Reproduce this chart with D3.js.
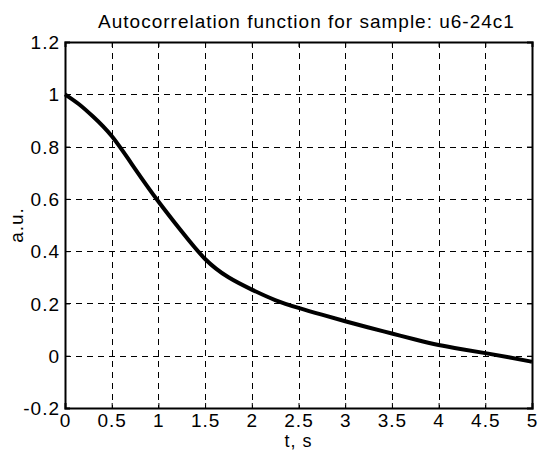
<!DOCTYPE html>
<html>
<head>
<meta charset="utf-8">
<script src="https://cdn.jsdelivr.net/npm/d3@7"></script>
<style>
body{margin:0;background:#fff}
text{font-family:"Liberation Sans",Arial,sans-serif}
</style>
</head>
<body>
<div id="chart"></div>
<script>
// values
var tValues=[0,0.15,0.3,0.5,0.75,1,1.25,1.5,1.75,2,2.25,2.5,2.75,3,3.25,3.5,3.75,4,4.25,4.5,4.75,5]
var acfValues=[1,0.962,0.915,0.84,0.715,0.59,0.475,0.37,0.3,0.253,0.213,0.183,0.157,0.132,0.108,0.085,0.062,0.041,0.025,0.010,-0.006,-0.023]
var xTicks=[0,0.5,1,1.5,2,2.5,3,3.5,4,4.5,5]
var yTicks=[-0.2,0,0.2,0.4,0.6,0.8,1,1.2]
var titleText="Autocorrelation function for sample: u6-24c1"

var svgWidth=540
var svgHeight=450
var margin={top:42,right:8,bottom:42,left:65}
var width=svgWidth-margin.left-margin.right
var height=svgHeight-margin.top-margin.bottom

var svg=d3.select("#chart").append("svg")
    .attr("width",svgWidth)
    .attr("height",svgHeight)
var g=svg.append("g")
    .attr("transform",`translate(${margin.left},${margin.top})`)

var x=d3.scaleLinear().domain([0,5]).range([0,width])
var y=d3.scaleLinear().domain([-0.2,1.2]).range([height,0])

// dashed grid
g.selectAll(".vgrid").data(xTicks.slice(1,-1)).enter().append("line")
    .attr("x1",d=>Math.round(x(d))+0.5).attr("x2",d=>Math.round(x(d))+0.5)
    .attr("y1",0).attr("y2",height)
    .attr("stroke","#000").attr("stroke-dasharray","6,5")
g.selectAll(".hgrid").data(yTicks.slice(1,-1)).enter().append("line")
    .attr("y1",d=>Math.round(y(d))+0.5).attr("y2",d=>Math.round(y(d))+0.5)
    .attr("x1",0).attr("x2",width)
    .attr("stroke","#000").attr("stroke-dasharray","6,5")

// axes with inward ticks
var fmt=d=>String(+d.toFixed(1))
var axBottom=g.append("g").attr("transform",`translate(0,${height})`)
    .call(d3.axisBottom(x).tickValues(xTicks).tickSize(-5).tickPadding(6).tickFormat(fmt))
var axLeft=g.append("g")
    .call(d3.axisLeft(y).tickValues(yTicks).tickSize(-5).tickPadding(5).tickFormat(fmt))
var axTop=g.append("g")
    .call(d3.axisTop(x).tickValues(xTicks).tickSize(-5).tickFormat(""))
var axRight=g.append("g").attr("transform",`translate(${width},0)`)
    .call(d3.axisRight(y).tickValues(yTicks).tickSize(-5).tickFormat(""))
;[axBottom,axLeft,axTop,axRight].forEach(a=>{
    a.attr("font-size",null).attr("font-family",null)
    a.select(".domain").attr("stroke","#000").attr("stroke-width",2)
    a.selectAll(".tick line").attr("stroke","#000")
    a.selectAll("text").attr("font-size","19px").attr("fill","#000")
        .attr("letter-spacing","1px")
})
axLeft.selectAll("text").attr("dy","0.35em")

// curve
var line=d3.line()
    .x((d,i)=>x(tValues[i]))
    .y(d=>y(d))
    .curve(d3.curveNatural)
g.append("path")
    .datum(acfValues)
    .attr("d",line)
    .attr("fill","none")
    .attr("stroke","#000")
    .attr("stroke-width",4)

// labels
svg.append("text")
    .attr("x",margin.left+width/2+8).attr("y",28)
    .attr("text-anchor","middle").attr("font-size","19px")
    .attr("letter-spacing","1px")
    .text(titleText)
svg.append("text")
    .attr("x",margin.left+width/2).attr("y",447)
    .attr("text-anchor","middle").attr("font-size","18px")
    .attr("letter-spacing","1px")
    .text("t, s")
svg.append("text")
    .attr("transform",`translate(23,${margin.top+height/2}) rotate(-90)`)
    .attr("text-anchor","middle").attr("font-size","19px")
    .attr("letter-spacing","1px")
    .text("a.u.")
</script>
</body>
</html>
